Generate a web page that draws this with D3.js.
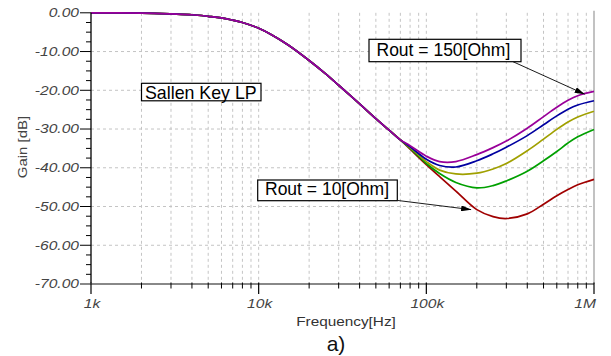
<!DOCTYPE html>
<html><head><meta charset="utf-8">
<script src="https://cdn.jsdelivr.net/npm/d3@7"></script>
<style>body{margin:0;background:#fff}svg{display:block}text{font-family:"Liberation Sans",Arial,sans-serif}</style>
</head><body>
<script>
const freqs = [1000,2000,3000,4000,5000,6000,7000,8000,10000,12000,15000,20000,25000,30000,40000,50000,60000,70000,80000,100000,120000,150000,200000,250000,300000,400000,500000,600000,700000,800000,1000000];
const common = [0,-0.1,-0.3,-0.5,-0.9,-1.3,-1.9,-2.5,-4.0,-5.7,-8.3,-12.3,-15.7,-18.7,-23.5,-27.3,-30.3,-32.8];
const tailRed    = [-35.2,-39.2,-42.3,-46.0,-50.8,-52.6,-53.1,-51.9,-49.4,-47.2,-45.6,-44.4,-43.0];
const tailGreen  = [-35.0,-38.9,-41.5,-43.8,-45.2,-44.6,-43.4,-40.9,-38.2,-35.8,-33.6,-32.0,-30.1];
const tailOlive  = [-34.8,-38.4,-40.6,-41.6,-41.4,-40.3,-38.9,-35.6,-32.6,-30.1,-28.2,-26.9,-25.4];
const tailBlue   = [-34.6,-37.8,-39.4,-39.8,-38.2,-36.4,-34.7,-31.7,-28.9,-26.6,-24.9,-23.8,-22.7];
const tailPurple = [-34.3,-37.0,-38.4,-38.4,-36.6,-34.8,-33.1,-29.8,-26.8,-24.4,-22.6,-21.4,-20.3];
const seriesNames = ["Rout = 10[Ohm]","R2","R3","R4","Rout = 150[Ohm]"];
const seriesColors = ["#a00000","#00a000","#a0a000","#0000a0","#990099"];
const tails = [tailRed,tailGreen,tailOlive,tailBlue,tailPurple];
const yTicks = [0,-10,-20,-30,-40,-50,-60,-70];
const xTickLabels = [[1e3,"1k"],[1e4,"10k"],[1e5,"100k"],[1e6,"1M"]];

const W=611,H=356;
const svg=d3.select("body").append("svg").attr("width",W).attr("height",H);
const x=d3.scaleLog().domain([1e3,1e6]).range([91,594]);
const y=d3.scaleLinear().domain([-70,0]).range([284,12.8]);

// grid
const minorX=[];
for(let d=1e3;d<1e6;d*=10){for(let k=2;k<=9;k++)minorX.push(d*k);}
const grid=svg.append("g");
grid.selectAll("line.vx").data(minorX.concat([1e4,1e5])).enter().append("line")
 .attr("x1",d=>x(d)).attr("x2",d=>x(d)).attr("y1",y(0)).attr("y2",y(-70))
 .attr("stroke","#c4c4c4").attr("stroke-dasharray","3,3");
grid.selectAll("line.hy").data(yTicks.filter(v=>v<0&&v>-70)).enter().append("line")
 .attr("x1",x(1e3)).attr("x2",x(1e6)).attr("y1",d=>y(d)).attr("y2",d=>y(d))
 .attr("stroke","#c4c4c4").attr("stroke-dasharray","3,3");
// right border
svg.append("line").attr("x1",x(1e6)).attr("x2",x(1e6)).attr("y1",y(0)-2).attr("y2",y(-70))
 .attr("stroke","#999").attr("stroke-width",1.2);

// curves
const line=d3.line().x(d=>x(d[0])).y(d=>y(d[1])).curve(d3.curveCatmullRom.alpha(0.5));
tails.forEach((t,i)=>{
  const vals=common.concat(t);
  const pts=freqs.map((f,j)=>[f,vals[j]]);
  svg.append("path").attr("d",line(pts)).attr("fill","none")
   .attr("stroke",seriesColors[i]).attr("stroke-width",1.7);
});

// y axis
const ya=svg.append("g");
ya.append("line").attr("x1",91).attr("x2",91).attr("y1",y(0)).attr("y2",y(-70)).attr("stroke","#000").attr("stroke-width",1.3);
const minorY=d3.range(0,-70,-2.5).filter(v=>v%10!==0);
ya.selectAll("line.mt").data(minorY).enter().append("line")
 .attr("x1",86).attr("x2",91).attr("y1",d=>y(d)).attr("y2",d=>y(d)).attr("stroke","#000");
ya.selectAll("line.Mt").data(yTicks).enter().append("line")
 .attr("x1",80).attr("x2",91).attr("y1",d=>y(d)).attr("y2",d=>y(d)).attr("stroke","#000");
ya.selectAll("g.lab").data(yTicks).enter().append("g")
 .attr("transform",d=>`translate(79,${y(d)+4.3})`)
 .append("text").attr("transform","scale(1.3,1)").attr("text-anchor","end")
 .attr("font-size",12).attr("font-style","italic").attr("fill","#444")
 .text(d=>d.toFixed(2));

// x axis
const xa=svg.append("g");
xa.append("line").attr("x1",80).attr("x2",x(1e6)).attr("y1",284).attr("y2",284).attr("stroke","#888").attr("stroke-width",2);
xa.selectAll("line.mx").data(minorX).enter().append("line")
 .attr("x1",d=>x(d)).attr("x2",d=>x(d)).attr("y1",282.5).attr("y2",288.5).attr("stroke","#000");
xa.selectAll("line.Mx").data(xTickLabels).enter().append("line")
 .attr("x1",d=>x(d[0])).attr("x2",d=>x(d[0])).attr("y1",282.5).attr("y2",294).attr("stroke","#000").attr("stroke-width",1.2);
xa.selectAll("g.xl").data(xTickLabels).enter().append("g")
 .attr("transform",(d,i)=>`translate(${i===3?x(d[0])+2:x(d[0])+1},307.7)`)
 .append("text").attr("transform","scale(1.3,1)").attr("text-anchor",(d,i)=>i===3?"end":"middle")
 .attr("font-size",12).attr("font-style","italic").attr("fill","#444").text(d=>d[1]);

// axis titles
svg.append("g").attr("transform","translate(346,326)").append("text").attr("transform","scale(1.18,1)")
 .attr("text-anchor","middle").attr("font-size",13).attr("fill","#333").text("Frequency[Hz]");
svg.append("g").attr("transform","translate(27,147) rotate(-90)").append("text").attr("transform","scale(1.2,1)")
 .attr("text-anchor","middle").attr("font-size",12.5).attr("fill","#444").text("Gain [dB]");
svg.append("text").attr("x",336).attr("y",351).attr("text-anchor","middle").attr("font-size",21).attr("fill","#111").text("a)");

// arrows
const defs=svg.append("defs");
defs.append("marker").attr("id","ah").attr("viewBox","0 0 10 6").attr("refX",10).attr("refY",3)
 .attr("markerWidth",10).attr("markerHeight",6).attr("markerUnits","userSpaceOnUse").attr("orient","auto")
 .append("path").attr("d","M0,0L10,3L0,6Z").attr("fill","#000");
svg.append("line").attr("x1",513).attr("y1",61.7).attr("x2",x(880000)).attr("y2",y(-21.0))
 .attr("stroke","#000").attr("stroke-width",0.9).attr("marker-end","url(#ah)");
svg.append("line").attr("x1",398).attr("y1",200.5).attr("x2",x(185000)).attr("y2",y(-50.8))
 .attr("stroke","#000").attr("stroke-width",0.9).attr("marker-end","url(#ah)");

// boxes
function box(x0,y0,w,h,txt,tx,ty,fs){
  svg.append("rect").attr("x",x0).attr("y",y0).attr("width",w).attr("height",h)
   .attr("fill","#fff").attr("stroke","#000").attr("stroke-width",1.2);
  svg.append("text").attr("x",tx).attr("y",ty).attr("font-size",fs).attr("fill","#000").text(txt);
}
box(141.5,83.3,119.5,17.5,"Sallen Key LP",145,98.5,17.8);
box(369,39.3,152,22.4,seriesNames[4],376.5,56.3,17.5);
box(257.7,180,139.6,20.7,seriesNames[0],265,195.3,17.5);
</script>
</body></html>
